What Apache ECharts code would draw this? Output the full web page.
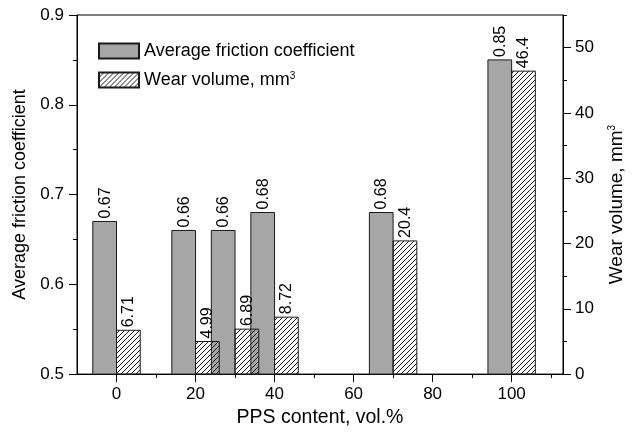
<!DOCTYPE html>
<html>
<head>
<meta charset="utf-8">
<script src="https://cdn.jsdelivr.net/npm/echarts@6/dist/echarts.min.js"></script>
<style>
html,body{margin:0;padding:0;background:#fff;}
#c{width:634px;height:433px;}
</style>
</head>
<body>
<div id="c"></div>
<script>
// ---- data ----
const ppsContent = [0, 20, 30, 40, 70, 100];
const frictionValues = [0.67, 0.66, 0.66, 0.68, 0.68, 0.85];
const wearValues = [6.71, 4.99, 6.89, 8.72, 20.4, 46.4];
const xTickValues = [0, 20, 40, 60, 80, 100];
const xMinorTickValues = [10, 30, 50, 70, 90, 110];
const rightTickValues = [0, 10, 20, 30, 40, 50];
const rightMinorTickValues = [5, 15, 25, 35, 45, 55];
const frictionName = 'Average friction coefficient';
const wearName = 'Wear volume, mm\u00b3';

// ---- styles ----
const FONT = '"Liberation Sans", Arial, sans-serif';
const GRAY = '#a6a6a6';
const BAR_HALF = 6; // bar width in x units

function makeHatch() {
  const c = document.createElement('canvas');
  c.width = 5; c.height = 5;
  const g = c.getContext('2d');
  g.fillStyle = '#1a1a1a';
  for (let i = 0; i < 5; i++) g.fillRect(i, 4 - i, 1, 1);
  return { image: c, repeat: 'repeat' };
}
const hatch = makeHatch();

const chart = echarts.init(document.getElementById('c'), null, { renderer: 'canvas' });

function barRender(side, base, fill) {
  return function (params, api) {
    const x = api.value(0), y = api.value(1);
    const x0 = side < 0 ? x - BAR_HALF : x;
    const x1 = side < 0 ? x : x + BAR_HALF;
    const pTop = api.coord([x0, y]);
    const pBot = api.coord([x1, base]);
    const cx = (pTop[0] + pBot[0]) / 2;
    return {
      type: 'group',
      children: [
        {
          type: 'rect',
          shape: { x: pTop[0], y: pTop[1], width: pBot[0] - pTop[0], height: pBot[1] - pTop[1] },
          style: { fill: fill, stroke: '#1a1a1a', lineWidth: 1 }
        },
        {
          type: 'text',
          x: cx + 0.5,
          y: pTop[1] - 3,
          rotation: Math.PI / 2,
          z2: 10,
          style: {
            text: String(y),
            fill: '#000',
            font: '16px ' + FONT,
            align: 'left',
            verticalAlign: 'middle'
          }
        }
      ]
    };
  };
}

const axisLineStyle = { color: '#000', width: 1 };

const option = {
  animation: false,
  backgroundColor: '#fff',
  textStyle: { fontFamily: FONT },
  grid: { left: 77, right: 62, top: 15, bottom: 52, show: true, borderColor: '#000', borderWidth: 1, backgroundColor: 'transparent' },
  legend: {
    orient: 'vertical',
    left: 98,
    top: 42,
    padding: 0,
    itemWidth: 40,
    itemHeight: 15,
    itemGap: 11,
    icon: 'rect',
    data: [frictionName, wearName],
    textStyle: {
      fontSize: 18, color: '#000', fontFamily: FONT,
      rich: { s: { fontSize: 10, verticalAlign: 'top', fontFamily: FONT, color: '#000' } }
    },
    formatter: function (n) { return n.replace('\u00b3', '{s|3}'); }
  },
  xAxis: [
    {
      type: 'value', min: -10, max: 113, position: 'bottom',
      name: 'PPS content, vol.%', nameLocation: 'middle', nameGap: 28,
      nameTextStyle: { fontSize: 19.5, color: '#000', fontFamily: FONT },
      axisLine: { show: true, onZero: false, lineStyle: axisLineStyle },
      axisTick: { show: true, length: 8, lineStyle: axisLineStyle, customValues: xTickValues },
      axisLabel: { fontSize: 17, color: '#000', margin: 12, customValues: xTickValues },
      splitLine: { show: false }
    },
    {
      type: 'value', min: -10, max: 113, position: 'bottom',
      axisLine: { show: false, onZero: false },
      axisTick: { show: true, length: 4, lineStyle: axisLineStyle, customValues: xMinorTickValues },
      axisLabel: { show: false },
      splitLine: { show: false }
    }
  ],
  yAxis: [
    {
      type: 'value', min: 0.5, max: 0.9, interval: 0.1, position: 'left',
      name: frictionName, nameLocation: 'middle', nameGap: 48, nameRotate: 90,
      nameTextStyle: { fontSize: 18, color: '#000', fontFamily: FONT },
      axisLine: { show: true, onZero: false, lineStyle: axisLineStyle },
      axisTick: { show: true, length: 8, lineStyle: axisLineStyle },
      minorTick: { show: true, splitNumber: 2, length: 4, lineStyle: axisLineStyle },
      axisLabel: { fontSize: 17, color: '#000', margin: 13, formatter: v => v.toFixed(1) },
      splitLine: { show: false }
    },
    {
      type: 'value', min: 0, max: 55, position: 'right',
      name: 'Wear volume, mm{s|3}', nameLocation: 'middle', nameGap: 44, nameRotate: 90,
      nameTextStyle: {
        fontSize: 19, color: '#000', fontFamily: FONT, padding: [0, 20, 0, 0],
        rich: { s: { fontSize: 10, verticalAlign: 'top', fontFamily: FONT, color: '#000' } }
      },
      axisLine: { show: true, onZero: false, lineStyle: axisLineStyle },
      axisTick: { show: true, length: 8, lineStyle: axisLineStyle, customValues: rightTickValues },
      axisLabel: { fontSize: 17, color: '#000', margin: 12, customValues: rightTickValues },
      splitLine: { show: false }
    },
    {
      type: 'value', min: 0, max: 55, position: 'right',
      axisLine: { show: false, onZero: false },
      axisTick: { show: true, length: 4, lineStyle: axisLineStyle, customValues: rightMinorTickValues },
      axisLabel: { show: false },
      splitLine: { show: false }
    }
  ],
  series: [
    {
      name: frictionName, type: 'custom', xAxisIndex: 0, yAxisIndex: 0, z: 2,
      itemStyle: { color: GRAY, borderColor: '#1a1a1a', borderWidth: 1 },
      renderItem: barRender(-1, 0.5, GRAY),
      data: ppsContent.map((x, i) => [x, frictionValues[i]])
    },
    {
      name: wearName, type: 'custom', xAxisIndex: 0, yAxisIndex: 1, z: 3,
      itemStyle: { color: hatch, borderColor: '#1a1a1a', borderWidth: 1 },
      renderItem: barRender(1, 0, hatch),
      data: ppsContent.map((x, i) => [x, wearValues[i]])
    }
  ]
};
chart.setOption(option);
</script>
</body>
</html>
